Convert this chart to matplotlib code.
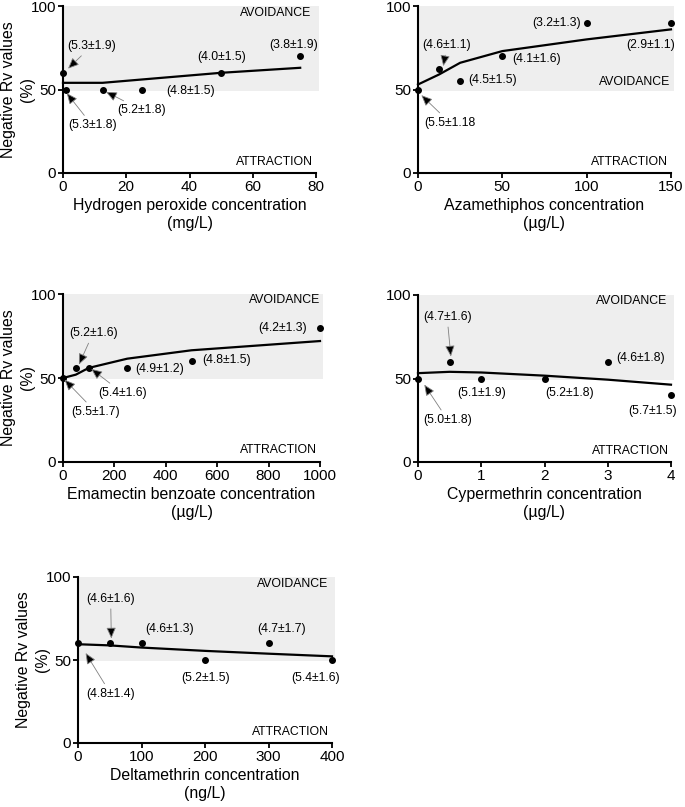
import matplotlib
matplotlib.use("Agg")
import matplotlib.pyplot as plt

plt.rcParams['font.family'] = ['Liberation Sans', 'DejaVu Sans']

# ---------------- data ----------------
h2o2_conc = [0, 1, 12.5, 25, 50, 75]
h2o2_rv = [60, 50, 50, 50, 60, 70]
h2o2_fit = [54, 54, 54, 56, 60, 63]
h2o2_labels = ["(5.3±1.9)", "(5.3±1.8)", "(5.2±1.8)", "(4.8±1.5)", "(4.0±1.5)", "(3.8±1.9)"]

aza_conc = [0, 12.5, 25, 50, 100, 150]
aza_rv = [50, 62, 55, 70, 90, 90]
aza_fit = [53, 59, 66, 73, 80, 86]
aza_labels = ["(5.5±1.18", "(4.6±1.1)", "(4.5±1.5)", "(4.1±1.6)", "(3.2±1.3)", "(2.9±1.1)"]

ema_conc = [0, 50, 100, 250, 500, 1000]
ema_rv = [50, 56, 56, 56, 60, 80]
ema_fit = [50, 52, 56, 61.5, 66.5, 72]
ema_labels = ["(5.5±1.7)", "(5.2±1.6)", "(5.4±1.6)", "(4.9±1.2)", "(4.8±1.5)", "(4.2±1.3)"]

cyp_conc = [0, 0.5, 1, 2, 3, 4]
cyp_rv = [50, 60, 50, 50, 60, 40]
cyp_fit = [53.2, 54, 53.6, 51.7, 49.3, 46.3]
cyp_labels = ["(5.0±1.8)", "(4.7±1.6)", "(5.1±1.9)", "(5.2±1.8)", "(4.6±1.8)", "(5.7±1.5)"]

del_conc = [0, 50, 100, 200, 300, 400]
del_rv = [60, 60, 60, 50, 60, 50]
del_fit = [59.5, 58.8, 57.5, 55.5, 53.8, 52.2]
del_labels = ["(4.8±1.4)", "(4.6±1.6)", "(4.6±1.3)", "(5.2±1.5)", "(4.7±1.7)", "(5.4±1.6)"]

# ---------------- layout ----------------
W, H = 685, 807
fig = plt.figure(figsize=(W / 100, H / 100), dpi=100)


def make_ax(x0, x1, ytop, ybot):
    return fig.add_axes([x0 / W, 1 - ybot / H, (x1 - x0) / W, (ybot - ytop) / H])


ANN_FS = 8.8
TICK_FS = 11
LAB_FS = 11.4
SHADE = '#eeeeee'


def panel(ax, conc, rv, fit, labels, xmax, xticks, xlabel, ylabel_x, anns,
          avoid_pos, attr_pos):
    ax.add_patch(plt.Rectangle((0, 49.2), xmax * 1.012, 51.0, facecolor=SHADE,
                               edgecolor='none', zorder=0, clip_on=False))
    ax.plot(conc, fit, color='black', lw=1.6, zorder=3, clip_on=False)
    ax.plot(conc, rv, 'o', color='black', ms=4, zorder=4, clip_on=False)
    ax.set_xlim(0, xmax)
    ax.set_ylim(0, 100)
    ax.set_xticks(xticks)
    ax.set_yticks([0, 50, 100])
    for s in ['top', 'right']:
        ax.spines[s].set_visible(False)
    for s in ['left', 'bottom']:
        ax.spines[s].set_linewidth(1.5)
    ax.tick_params(axis='both', direction='out', length=3.5, width=1.3,
                   labelsize=TICK_FS, pad=1.5)
    ax.set_xlabel(xlabel, fontsize=LAB_FS, labelpad=3, linespacing=1.25)
    if ylabel_x is not None:
        ax.text(ylabel_x, 0.5, "Negative Rv values\n(%)", transform=ax.transAxes,
                rotation=90, ha='center', va='center', multialignment='center',
                fontsize=LAB_FS, linespacing=1.4)
    for i, (tx, ty, ha, head) in enumerate(anns):
        if head is None:
            ax.text(tx, ty, labels[i], fontsize=ANN_FS, ha=ha, va='center', zorder=5)
        else:
            ax.annotate(labels[i], xy=head, xytext=(tx, ty), fontsize=ANN_FS,
                        ha=ha, va='center', zorder=5,
                        arrowprops=dict(arrowstyle='-|>,head_length=0.75,head_width=0.33',
                                        fc='black', ec='#808080', lw=0.6,
                                        shrinkA=1, shrinkB=0))
    ax.text(avoid_pos[0], avoid_pos[1], "AVOIDANCE", fontsize=ANN_FS, ha='right',
            va='center', zorder=5)
    ax.text(attr_pos[0], attr_pos[1], "ATTRACTION", fontsize=ANN_FS, ha='right',
            va='center', zorder=5)


# Panel 1: hydrogen peroxide
ax1 = make_ax(63, 316, 6, 173)
panel(ax1, h2o2_conc, h2o2_rv, h2o2_fit, h2o2_labels, 80, [0, 20, 40, 60, 80],
      "Hydrogen peroxide concentration\n(mg/L)", (18 - 63) / 253,
      [(9, 76, 'center', (1.6, 62.5)),
       (9.2, 28.6, 'center', (1.2, 47.8)),
       (25, 37.6, 'center', (13.6, 48.6)),
       (40.2, 49.2, 'center', None),
       (50, 69.2, 'center', None),
       (73, 76.6, 'center', None)],
      (78.6, 95.6), (79, 6.6))

# Panel 2: azamethiphos
ax2 = make_ax(418, 671, 6, 173)
panel(ax2, aza_conc, aza_rv, aza_fit, aza_labels, 150, [0, 50, 100, 150],
      "Azamethiphos concentration\n(µg/L)", None,
      [(18.8, 30.2, 'center', (2, 46.6)),
       (17.2, 76.6, 'center', (15, 64)),
       (29.5, 55.4, 'left', None),
       (56, 68, 'left', None),
       (96.4, 90, 'right', None),
       (152.4, 76.6, 'right', None)],
      (149.4, 54.2), (148.4, 6.6))

# Panel 3: emamectin benzoate
ax3 = make_ax(63, 320, 294, 462)
panel(ax3, ema_conc, ema_rv, ema_fit, ema_labels, 1000,
      [0, 200, 400, 600, 800, 1000],
      "Emamectin benzoate concentration\n(µg/L)", (18 - 63) / 257,
      [(127, 29.9, 'center', (6, 49)),
       (117, 76.7, 'center', (62, 58)),
       (231, 41.2, 'center', (110, 55.4)),
       (283, 55.4, 'left', None),
       (543, 60.8, 'left', None),
       (948, 79.9, 'right', None)],
      (1000, 96.6), (987, 7))

# Panel 4: cypermethrin
ax4 = make_ax(418, 671, 295, 462)
panel(ax4, cyp_conc, cyp_rv, cyp_fit, cyp_labels, 4, [0, 1, 2, 3, 4],
      "Cypermethrin concentration\n(µg/L)", None,
      [(0.47, 25.2, 'center', (0.1, 46.3)),
       (0.46, 86.9, 'center', (0.52, 63.2)),
       (1.0, 41.6, 'center', None),
       (2.4, 41.6, 'center', None),
       (3.14, 62.4, 'left', None),
       (4.1, 30.8, 'right', None)],
      (3.94, 96.2), (3.96, 6.6))

# Panel 5: deltamethrin
ax5 = make_ax(78, 332, 577, 743)
panel(ax5, del_conc, del_rv, del_fit, del_labels, 400, [0, 100, 200, 300, 400],
      "Deltamethrin concentration\n(ng/L)", (33 - 78) / 254,
      [(51.4, 29.7, 'center', (12, 54.2)),
       (51.4, 86.9, 'center', (52.5, 63)),
       (144, 68.9, 'center', None),
       (201, 39.4, 'center', None),
       (321, 68.9, 'center', None),
       (412, 39.4, 'right', None)],
      (394, 96), (395, 6.6))

fig.savefig("out.png", dpi=100)
